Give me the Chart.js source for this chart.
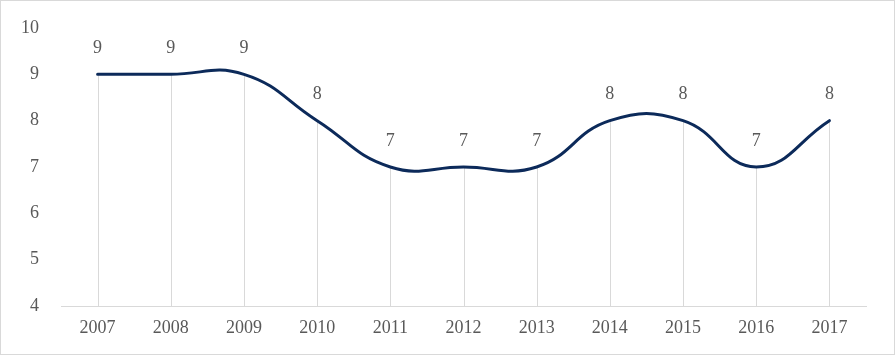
<!DOCTYPE html>
<html>
<head>
<meta charset="utf-8">
<script src="https://cdn.jsdelivr.net/npm/chart.js@4/dist/chart.umd.min.js"></script>
<style>
  html, body { margin: 0; padding: 0; background: #fff; }
  #wrap { width: 895px; height: 355px; position: relative; }
</style>
</head>
<body>
<div id="wrap"><canvas id="chart"></canvas></div>
<script>
const years = ['2007', '2008', '2009', '2010', '2011', '2012', '2013', '2014', '2015', '2016', '2017']
const values = [9, 9, 9, 8, 7, 7, 7, 8, 8, 7, 8]
const yMin = 4
const yMax = 10

const textColor = '#595959'
const lineGray = '#d9d9d9'
const fontFamily = '"Liberation Serif", "Times New Roman", serif'

// drop lines from each point down to the axis, plus the labels above points
const dropLines = {
    id: 'dropLines',
    beforeDatasetsDraw(chart) {
        const ctx = chart.ctx
        const meta = chart.getDatasetMeta(0)
        const bottom = chart.scales.y.getPixelForValue(yMin)
        ctx.save()
        ctx.strokeStyle = lineGray
        ctx.lineWidth = 1
        for (const pt of meta.data) {
            const x = Math.round(pt.x) + 0.5
            ctx.beginPath()
            ctx.moveTo(x, pt.y)
            ctx.lineTo(x, bottom)
            ctx.stroke()
        }
        ctx.restore()
    },
    afterDatasetsDraw(chart) {
        const ctx = chart.ctx
        const meta = chart.getDatasetMeta(0)
        ctx.save()
        ctx.fillStyle = textColor
        ctx.font = '18px ' + fontFamily
        ctx.textAlign = 'center'
        ctx.textBaseline = 'middle'
        meta.data.forEach((pt, i) => {
            ctx.fillText(String(values[i]), pt.x, pt.y - 26)
        })
        ctx.restore()
    },
    afterDraw(chart) {
        const ctx = chart.ctx
        ctx.save()
        ctx.strokeStyle = lineGray
        ctx.lineWidth = 1
        ctx.strokeRect(0.5, 0.5, chart.width - 1, chart.height - 1)
        ctx.restore()
    }
}

new Chart(document.getElementById('chart'), {
    type: 'line',
    data: {
        labels: years,
        datasets: [{
            data: values,
            borderColor: '#0c2a5a',
            borderWidth: 3,
            tension: 0.45,
            pointRadius: 0,
            borderCapStyle: 'round',
            fill: false
        }]
    },
    options: {
        responsive: true,
        maintainAspectRatio: false,
        animation: false,
        layout: { padding: { top: 28, right: 29, bottom: 0, left: 0 } },
        plugins: {
            legend: { display: false },
            tooltip: { enabled: false }
        },
        scales: {
            x: {
                offset: true,
                grid: { display: false, drawTicks: false },
                border: { display: true, color: lineGray, width: 1 },
                ticks: {
                    color: textColor,
                    font: { family: fontFamily, size: 18 },
                    padding: 11,
                    maxRotation: 0
                },
                afterFit: (scale) => { scale.height = 49 }
            },
            y: {
                min: yMin,
                max: yMax,
                grid: { display: false, drawTicks: false },
                border: { display: false },
                ticks: {
                    stepSize: 1,
                    color: textColor,
                    font: { family: fontFamily, size: 18 },
                    padding: 22
                },
                afterFit: (scale) => {
                    scale.width = 61
                    scale.paddingTop = 0
                    scale.paddingBottom = 0
                }
            }
        }
    },
    plugins: [dropLines]
})
</script>
</body>
</html>
